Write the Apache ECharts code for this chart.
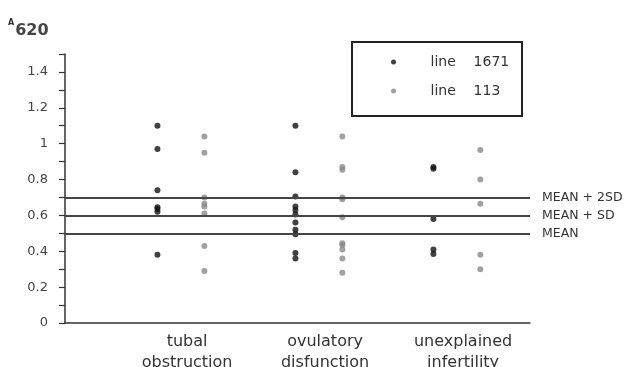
<!DOCTYPE html>
<html>
<head>
<meta charset="utf-8">
<script src="https://cdn.jsdelivr.net/npm/echarts@6/dist/echarts.min.js"></script>
<style>
html,body{margin:0;padding:0;background:#fff;}
#chart{width:630px;height:367px;}
</style>
</head>
<body>
<div id="chart"></div>
<script>
// ---- data ----
var categories = ['tubal\nobstruction', 'ovulatory\ndisfunction', 'unexplained\ninfertility'];
var seriesNames = ['line 1671', 'line 113'];

// line 1671 (black dots), one list per category
var line1671Tubal = [1.10, 0.97, 0.74, 0.645, 0.62, 0.635, 0.38];
var line1671Ovulatory = [1.10, 0.84, 0.705, 0.65, 0.63, 0.605, 0.56, 0.52, 0.495, 0.39, 0.36];
var line1671Unexplained = [0.87, 0.86, 0.58, 0.41, 0.385];

// line 113 (grey dots)
var line113Tubal = [1.04, 0.95, 0.70, 0.65, 0.665, 0.61, 0.43, 0.29];
var line113Ovulatory = [1.04, 0.87, 0.855, 0.70, 0.69, 0.59, 0.445, 0.435, 0.41, 0.36, 0.28];
var line113Unexplained = [0.965, 0.80, 0.665, 0.38, 0.30];

// reference lines
var meanValues = [0.5, 0.6, 0.7];
var meanLabels = ['MEAN', 'MEAN + SD', 'MEAN + 2SD'];

// y tick labels (every 0.2)
var yTickLabels = ['0', '0.2', '0.4', '0.6', '0.8', '1', '1.2', '1.4'];
var yAxisTitle = ['A', '620'];

// ---- build series data ----
var colOffset = 0.17;
function build(lists, side) {
  var out = [];
  lists.forEach(function (vals, ci) {
    vals.forEach(function (v) { out.push([ci + 1 + side * colOffset, v]); });
  });
  return out;
}
var blackData = build([line1671Tubal, line1671Ovulatory, line1671Unexplained], -1);
var greyData = build([line113Tubal, line113Ovulatory, line113Unexplained], 1);

var FONT = '"DejaVu Sans", "Liberation Sans", Arial, sans-serif';
var labelShift = 0.045;
var chart = echarts.init(document.getElementById('chart'));
chart.setOption({
  animation: false,
  backgroundColor: '#ffffff',
  textStyle: { fontFamily: FONT },
  grid: { left: 65, right: 100, top: 54, bottom: 44, containLabel: false, outerBoundsMode: 'none' },
  xAxis: {
    type: 'value',
    min: 0.16,
    max: 3.53,
    splitLine: { show: false },
    axisTick: { show: false },
    axisLine: { lineStyle: { color: '#333', width: 1.5 } },
    axisLabel: {
      customValues: categories.map(function (c, i) { return i + 1 + labelShift; }),
      formatter: function (v) { return categories[Math.round(v) - 1] || ''; },
      color: '#333',
      fontSize: 16,
      lineHeight: 21,
      margin: 8,
      fontFamily: FONT
    }
  },
  yAxis: {
    type: 'value',
    min: 0,
    max: 1.5,
    interval: 0.1,
    splitLine: { show: false },
    axisLine: { show: true, lineStyle: { color: '#333', width: 1.5 } },
    axisTick: { show: true, length: 6, lineStyle: { color: '#333', width: 1.2 } },
    axisLabel: {
      formatter: function (v, i) {
        return (i % 2 === 0 && yTickLabels[i / 2] !== undefined) ? yTickLabels[i / 2] : '';
      },
      color: '#444',
      fontSize: 13,
      margin: 17,
      fontFamily: FONT
    }
  },
  legend: {
    show: true,
    orient: 'vertical',
    left: 386,
    top: 50,
    itemWidth: 64,
    itemHeight: 5,
    itemGap: 15,
    icon: 'circle',
    data: seriesNames,
    formatter: function (n) { return n.replace(' ', '    '); },
    textStyle: { color: '#333', fontSize: 14, fontFamily: FONT }
  },
  graphic: [
    {
      type: 'rect',
      shape: { x: 352, y: 42, width: 170, height: 74 },
      style: { fill: 'none', stroke: '#222', lineWidth: 2 },
      silent: true
    },
    {
      type: 'text',
      left: 8,
      top: 19,
      style: {
        text: '{a|' + yAxisTitle[0] + '}{b|' + yAxisTitle[1] + '}',
        rich: {
          a: { fontSize: 8, fontWeight: 'bold', fill: '#333', verticalAlign: 'top', padding: [0, 1, 12, 0], fontFamily: FONT },
          b: { fontSize: 16, fontWeight: 'bold', fill: '#444', verticalAlign: 'bottom', fontFamily: FONT }
        },
        fontFamily: FONT
      }
    }
  ],
  series: [
    {
      name: seriesNames[0],
      type: 'scatter',
      symbol: 'circle',
      symbolSize: 6,
      itemStyle: { color: '#111' },
      data: blackData,
      markLine: {
        silent: true,
        symbol: 'none',
        animation: false,
        lineStyle: { color: '#444', width: 2, type: 'solid' },
        label: {
          show: true,
          position: 'end',
          distance: 12,
          formatter: '{b}',
          color: '#333',
          fontSize: 12.5,
          fontFamily: FONT
        },
        emphasis: { disabled: true },
        data: meanValues.map(function (v, i) { return { yAxis: v, name: meanLabels[i] }; })
      },
      z: 3
    },
    {
      name: seriesNames[1],
      type: 'scatter',
      symbol: 'circle',
      symbolSize: 6,
      itemStyle: { color: '#8a8a8a' },
      data: greyData,
      z: 3
    }
  ]
});
</script>
</body>
</html>
